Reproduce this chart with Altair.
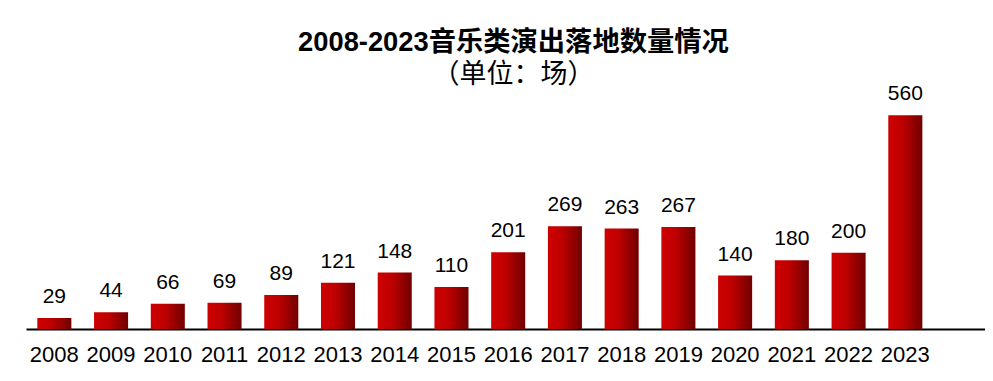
import altair as alt
import pandas as pd

years = ["2008", "2009", "2010", "2011", "2012", "2013", "2014", "2015",
         "2016", "2017", "2018", "2019", "2020", "2021", "2022", "2023"]
values = [29, 44, 66, 69, 89, 121, 148, 110, 201, 269, 263, 267, 140, 180, 200, 560]

df = pd.DataFrame({"year": years, "value": values})

x = alt.X("year:N", sort=years,
          scale=alt.Scale(domain=years, paddingInner=0.4, paddingOuter=0.652,
                          align=0.153, round=False),
          axis=alt.Axis(title=None, labelAngle=0, ticks=False, labelFontSize=22,
                        labelFont="Liberation Sans", labelColor="#000000",
                        labelPadding=15, domainColor="#000000", domainWidth=2,
                        grid=False))
y = alt.Y("value:Q", scale=alt.Scale(domain=[0, 600], nice=False),
          axis=None)

grad = alt.Gradient(
    gradient="linear", x1=0, x2=1, y1=0, y2=0,
    stops=[alt.GradientStop(color="#CE0000", offset=0),
           alt.GradientStop(color="#C00000", offset=0.4),
           alt.GradientStop(color="#700000", offset=1)])

bars = alt.Chart(df).mark_bar(color=grad).encode(x=x, y=y)
labels = alt.Chart(df).mark_text(
    baseline="alphabetic", dy=-15, fontSize=21, font="Liberation Sans",
    color="#000000").encode(x=x, y=y, text="value:Q")

chart = alt.layer(bars, labels).properties(
    width=959, height=229,
    padding={"left": 18, "right": 0, "top": 92, "bottom": 44},
    autosize=alt.AutoSizeParams(type="none"),
    title=alt.TitleParams(
        text="2008-2023音乐类演出落地数量情况",
        subtitle="（单位：场）",
        font="Liberation Sans, Noto Sans CJK SC", fontSize=27.3, fontWeight="bold",
        color="#000000",
        subtitleFont="Noto Sans CJK SC", subtitleFontSize=27,
        subtitleFontWeight="normal", subtitleColor="#000000",
        subtitlePadding=6,
        anchor="middle", dx=8, offset=-5),
).configure_view(stroke=None)

chart.save("out.html", embed_options={"renderer": "svg", "actions": False})
